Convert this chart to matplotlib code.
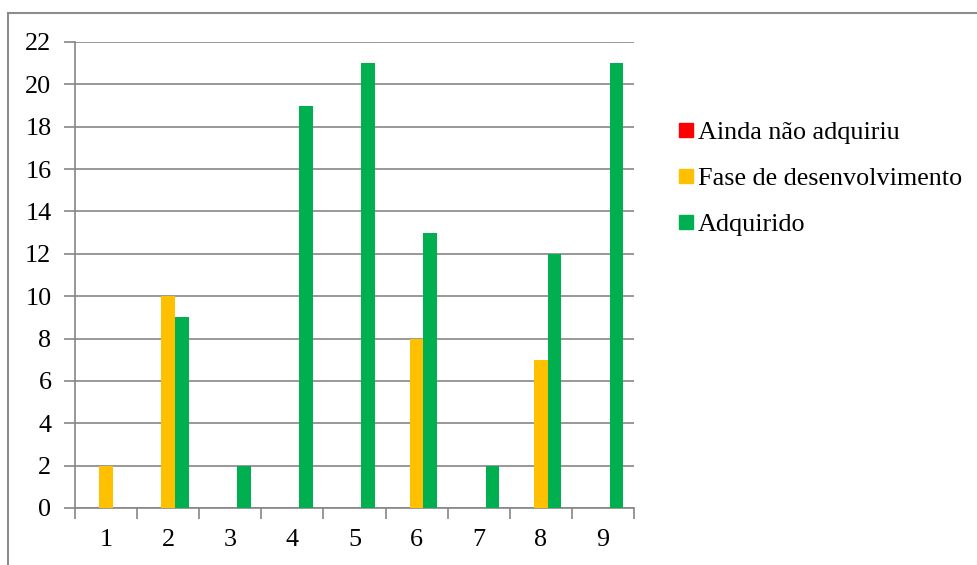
import matplotlib
matplotlib.use("Agg")
import matplotlib.pyplot as plt
import numpy as np
from matplotlib.lines import Line2D

categories = ["1", "2", "3", "4", "5", "6", "7", "8", "9"]
series_names = ["Ainda não adquiriu", "Fase de desenvolvimento", "Adquirido"]
ainda_nao = [0, 0, 0, 0, 0, 0, 0, 0, 0]
fase_desenv = [2, 10, 0, 0, 0, 8, 0, 7, 0]
adquirido = [0, 9, 2, 19, 21, 13, 2, 12, 21]
colors = ["#FF0000", "#FFC000", "#00B050"]
y_ticks = list(range(0, 23, 2))

plt.rcParams["font.family"] = ["Liberation Serif", "DejaVu Serif"]

W, H = 977, 565
FS = 18.8
fig = plt.figure(figsize=(W / 100, H / 100), dpi=100)
ax = fig.add_axes([75 / W, (H - 508) / H, (634 - 75) / W, (508 - 42) / H])

x = np.arange(1, len(categories) + 1)
w = 0.22
handles = []
for i, (vals, name, c) in enumerate(zip([ainda_nao, fase_desenv, adquirido], series_names, colors)):
    ax.bar(x + (i - 1) * w, vals, width=w, color=c, zorder=3)
    handles.append(Line2D([], [], marker="s", linestyle="none", markersize=10,
                          markerfacecolor=c, markeredgecolor=c, label=name))

grid_c = "#868686"
ax.set_xlim(0.5, len(categories) + 0.5)
ax.set_ylim(0, 22)
ax.set_yticks(y_ticks)
ax.yaxis.grid(True, color=grid_c, linewidth=1.2, zorder=0)
ax.set_axisbelow(True)

ax.set_xticks(x)
ax.set_xticklabels(categories)
ax.set_xticks(np.arange(0.5, len(categories) + 1.0, 1.0), minor=True)
ax.tick_params(axis="x", which="major", length=0, pad=15, labelsize=FS, colors="black")
ax.tick_params(axis="x", which="minor", length=8, width=1.2, color=grid_c, direction="out")
ax.tick_params(axis="y", length=8, width=1.2, color=grid_c, pad=9, labelsize=FS, labelcolor="black")

for s in ["top", "right"]:
    ax.spines[s].set_visible(False)
for s in ["left", "bottom"]:
    ax.spines[s].set_color(grid_c)
    ax.spines[s].set_linewidth(1.2)

leg = fig.legend(handles=handles, loc="upper left",
                 bbox_to_anchor=(668 / W, (H - 110) / H),
                 frameon=False, fontsize=FS, handlelength=0.55, handletextpad=0.2,
                 labelspacing=0.88, borderaxespad=0)

# outer chart border
fig.add_artist(Line2D([8 / W, 8 / W], [0, (H - 12.5) / H], color="#8c8c8c", linewidth=1.5,
                      transform=fig.transFigure))
fig.add_artist(Line2D([8 / W, 1], [(H - 12.5) / H, (H - 12.5) / H], color="#8c8c8c", linewidth=1.5,
                      transform=fig.transFigure))

fig.savefig("out.png", dpi=100, facecolor="white")
